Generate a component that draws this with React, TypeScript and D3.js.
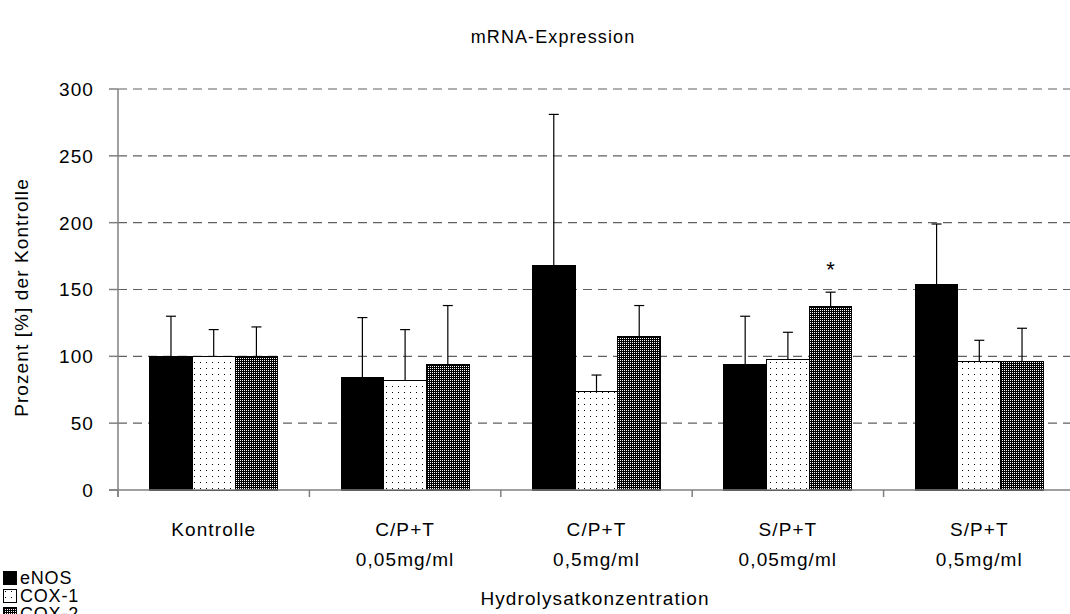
import React from "react";
import * as d3 from "d3";

const categories = ["Kontrolle", "C/P+T|0,05mg/ml", "C/P+T|0,5mg/ml", "S/P+T|0,05mg/ml", "S/P+T|0,5mg/ml"];
const seriesNames = ["eNOS", "COX-1", "COX-2"];
const eNOS = [100, 84, 168, 94, 154];
const eNOSErr = [130, 129, 281, 130, 199];
const cox1 = [100, 82, 74, 98, 96];
const cox1Err = [120, 120, 86, 118, 112];
const cox2 = [100, 94, 115, 137, 96];
const cox2Err = [122, 138, 138, 148, 121];
const yTicks = [0, 50, 100, 150, 200, 250, 300];
const significant = [{ category: 3, series: 2, label: "*" }];

const values = [eNOS, cox1, cox2];
const errs = [eNOSErr, cox1Err, cox2Err];
const fills = ["#000", "url(#dots)", "url(#checker)"];

export default function App() {
  const W = 1070, H = 614;
  const left = 118, right = 1075, top = 89, bottom = 490;
  const x = d3.scaleBand().domain(categories).range([left, right]).paddingInner(0).paddingOuter(0);
  const xs = d3.scaleBand().domain(seriesNames).range([0, x.bandwidth()]).paddingInner(0).paddingOuter(0.74);
  const y = d3.scaleLinear().domain([0, 300]).range([bottom, top]);
  const font = "'Liberation Sans', Arial, sans-serif";
  const ls = "1.1px";
  const fs = 19;

  const boundaries = categories.map((c) => x(c)!).concat([right]);

  return (
    <svg width={W} height={H} style={{ position: "absolute", left: 0, top: 0, display: "block" }} fontFamily={font}>
      <defs>
        <pattern id="dots" width="6" height="6" patternUnits="userSpaceOnUse">
          <rect width="6" height="6" fill="#fff" />
          <rect x="2" y="2" width="1" height="1" fill="#000" />
        </pattern>
        <pattern id="checker" width="2" height="2" patternUnits="userSpaceOnUse">
          <rect width="2" height="2" fill="#000" />
          <rect x="0" y="0" width="1" height="1" fill="#fff" />
        </pattern>
      </defs>
      <rect width={W} height={H} fill="#fff" />
      <text x={553} y={43} textAnchor="middle" fontSize={18} letterSpacing={ls}>mRNA-Expression</text>

      {/* gridlines */}
      {yTicks.filter((t) => t > 0).map((t) => (
        <line key={t} x1={left} x2={right} y1={y(t)} y2={y(t)} stroke="#606060" strokeWidth={1.2} strokeDasharray="9,6" />
      ))}

      {/* bars */}
      {categories.map((c, ci) => (
        <g key={c}>
          {seriesNames.map((s, si) => {
            const bx = x(c)! + xs(s)!;
            const v = values[si][ci];
            return (
              <rect key={s} x={bx} y={y(v)} width={xs.bandwidth()} height={y(0) - y(v)} fill={fills[si]} stroke="#000" strokeWidth={1} shapeRendering="crispEdges" />
            );
          })}
          {seriesNames.map((s, si) => {
            const cx = x(c)! + xs(s)! + xs.bandwidth() / 2;
            const v = values[si][ci];
            const e = errs[si][ci];
            return (
              <g key={s + "e"} stroke="#000" strokeWidth={1.2}>
                <line x1={cx} x2={cx} y1={y(v)} y2={y(e)} />
                <line x1={cx - 5} x2={cx + 5} y1={y(e)} y2={y(e)} />
              </g>
            );
          })}
        </g>
      ))}

      {significant.map((sg, i) => {
        const c = categories[sg.category];
        const cx = x(c)! + xs(seriesNames[sg.series])! + xs.bandwidth() / 2;
        return (
          <text key={i} x={cx} y={y(errs[sg.series][sg.category]) - 15} textAnchor="middle" fontSize={22}>{sg.label}</text>
        );
      })}

      {/* axes */}
      <line x1={left} x2={left} y1={top} y2={bottom + 7} stroke="#808080" strokeWidth={1.5} />
      <line x1={left - 9} x2={right} y1={bottom} y2={bottom} stroke="#808080" strokeWidth={1.5} />
      {yTicks.map((t) => (
        <g key={t}>
          <line x1={left - 9} x2={left} y1={y(t)} y2={y(t)} stroke="#808080" strokeWidth={1.5} />
          <text x={94} y={y(t)} dy="0.36em" textAnchor="end" fontSize={fs} letterSpacing={ls}>{t}</text>
        </g>
      ))}
      {boundaries.map((b, i) => (
        <line key={i} x1={b} x2={b} y1={bottom} y2={bottom + 7} stroke="#808080" strokeWidth={1.5} />
      ))}
      {categories.map((c) => {
        const lines = c.split("|");
        const cx = x(c)! + x.bandwidth() / 2;
        return (
          <text key={c} x={cx} y={536} textAnchor="middle" fontSize={fs} letterSpacing={ls}>
            {lines.map((l, i) => (
              <tspan key={i} x={cx} dy={i === 0 ? 0 : 30}>{l}</tspan>
            ))}
          </text>
        );
      })}
      <text x={595} y={605} textAnchor="middle" fontSize={fs} letterSpacing={ls}>Hydrolysatkonzentration</text>
      <text transform={`translate(28,${(top + bottom) / 2 + 8}) rotate(-90)`} textAnchor="middle" fontSize={fs} letterSpacing={ls}>Prozent [%] der Kontrolle</text>

      {/* legend */}
      {seriesNames.map((s, i) => (
        <g key={s} transform={`translate(3,${571 + i * 18})`}>
          <rect x={0} y={0} width={13} height={13} fill={fills[i]} stroke="#000" strokeWidth={1} shapeRendering="crispEdges" />
          <text x={17} y={13} fontSize={18} letterSpacing="0.8px">{s}</text>
        </g>
      ))}
    </svg>
  );
}
